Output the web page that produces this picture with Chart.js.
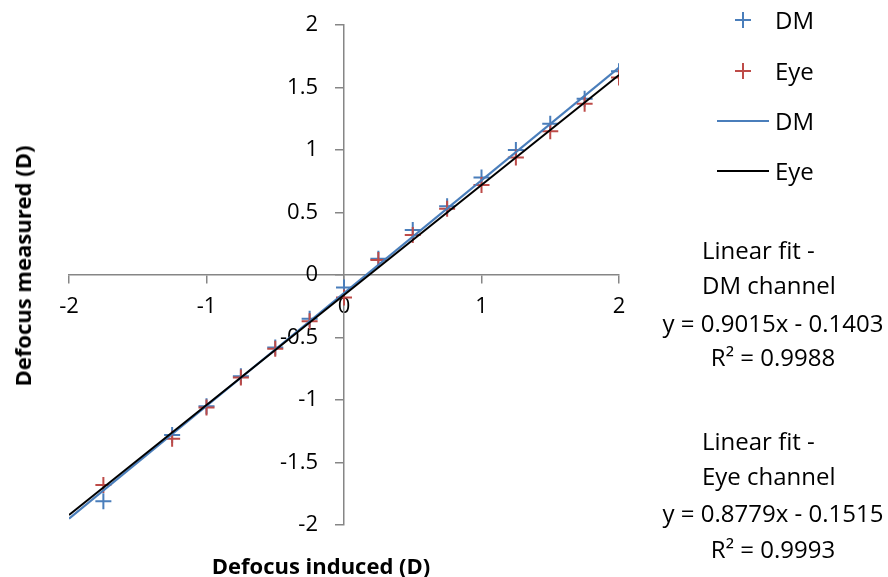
<!DOCTYPE html>
<html>
<head>
<meta charset="utf-8">
<script src="https://cdn.jsdelivr.net/npm/chart.js@4"></script>
<style>
  body { margin: 0; background: #fff; }
  #wrap { position: relative; width: 888px; height: 577px; font-family: 'Open Sans', sans-serif; color: #000; }
  .t { position: absolute; font-size: 24px; line-height: 28px; white-space: nowrap; }
  .c { transform: translate(-50%, -50%); }
  .l { transform: translate(0, -50%); }
  .ttl { font-weight: bold; font-size: 22px; }
  .cross { position: absolute; width: 16px; height: 16px; transform: translate(-50%, -50%); }
  .cross::before, .cross::after { content: ''; position: absolute; background: currentColor; }
  .cross::before { left: 0; top: 7px; width: 16px; height: 2px; }
  .cross::after { left: 7px; top: 0; width: 2px; height: 16px; }
  .lmark { position: absolute; height: 2px; width: 52px; }
</style>
</head>
<body>
<div id="wrap">
  <canvas id="c"></canvas>
</div>
<script>
// defocus induced (D)
var induced = [-1.75, -1.25, -1, -0.75, -0.5, -0.25, 0, 0.25, 0.5, 0.75, 1, 1.25, 1.5, 1.75, 2];
// defocus measured (D)
var dmMeasured  = [-1.81, -1.28, -1.05, -0.81, -0.58, -0.35, -0.10, 0.13, 0.36, 0.55, 0.78, 1.00, 1.21, 1.41, 1.63];
var eyeMeasured = [-1.68, -1.31, -1.06, -0.82, -0.59, -0.37, -0.18, 0.12, 0.32, 0.53, 0.72, 0.94, 1.15, 1.37, 1.58];
// trendline ends
var fitX = [-2, 2];
var dmFit = [-1.95, 1.66];
var eyeFit = [-1.92, 1.60];

var blue = '#4a7ebb', red = '#be4b48';

function pts(xs, ys) {
  return xs.map(function(x, i) { return { x: x, y: ys[i] }; });
}

// legend + fit annotations (html text)
var wrap = document.getElementById('wrap');
function addText(txt, x, y, cls) {
  var d = document.createElement('div');
  d.className = 't ' + cls;
  d.style.left = x + 'px';
  d.style.top = y + 'px';
  d.textContent = txt;
  wrap.appendChild(d);
  return d;
}
function addCross(color, x, y) {
  var d = document.createElement('div');
  d.className = 'cross';
  d.style.color = color;
  d.style.left = x + 'px';
  d.style.top = y + 'px';
  wrap.appendChild(d);
}
function addLine(color, x, y) {
  var d = document.createElement('div');
  d.className = 'lmark';
  d.style.background = color;
  d.style.left = x + 'px';
  d.style.top = (y - 1) + 'px';
  wrap.appendChild(d);
}

addCross(blue, 743, 20);  addText('DM', 775, 20, 'l');
addCross(red, 743, 71);   addText('Eye', 775, 71, 'l');
addLine(blue, 717, 121);  addText('DM', 775, 121, 'l');
addLine('#000', 717, 171); addText('Eye', 775, 171, 'l');

addText('Linear fit -', 702, 250, 'l');
addText('DM channel', 702, 285, 'l');
addText('y = 0.9015x - 0.1403', 773, 323, 'c');
addText('R² = 0.9988', 773, 357, 'c');
addText('Linear fit -', 702, 441, 'l');
addText('Eye channel', 702, 476, 'l');
addText('y = 0.8779x - 0.1515', 773, 513, 'c');
addText('R² = 0.9993', 773, 549, 'c');

addText('Defocus induced (D)', 321, 565, 'c ttl');
var yt = addText('Defocus measured (D)', 22, 266, 'ttl');
yt.style.transform = 'translate(-50%, -50%) rotate(-90deg)';

var axisGrey = '#868686';
var tickFont = { family: "'Open Sans', sans-serif", size: 22 };

// y axis sits at x=0, chart.js puts its labels flush on the line - push them left
var Y_LABEL_GAP = 26;
var yLabelGap = {
  id: 'yLabelGap',
  afterUpdate: function(chart) {
    var sc = chart.scales.y;
    sc.getLabelItems(chart.chartArea).forEach(function(it) {
      it.options.translation[0] -= Y_LABEL_GAP;
    });
  }
};

new Chart(document.getElementById('c'), {
  type: 'scatter',
  data: {
    datasets: [
      { label: 'DM', data: pts(induced, dmMeasured), pointStyle: 'cross', pointRadius: 8,
        borderColor: blue, backgroundColor: blue, pointBorderWidth: 2, order: 4 },
      { label: 'Eye', data: pts(induced, eyeMeasured), pointStyle: 'cross', pointRadius: 8,
        borderColor: red, backgroundColor: red, pointBorderWidth: 2, order: 3 },
      { label: 'DM', data: pts(fitX, dmFit), showLine: true, pointRadius: 0,
        borderColor: blue, borderWidth: 2.25, order: 2 },
      { label: 'Eye', data: pts(fitX, eyeFit), showLine: true, pointRadius: 0,
        borderColor: '#000', borderWidth: 2, order: 1 }
    ]
  },
  options: {
    responsive: true,
    maintainAspectRatio: false,
    animation: false,
    layout: { padding: { left: 69, right: 269, top: 25, bottom: 52 } },
    plugins: { legend: { display: false }, tooltip: { enabled: false } },
    scales: {
      x: {
        type: 'linear', position: { y: 0 }, min: -2, max: 2,
        border: { color: axisGrey, width: 1.5 },
        grid: { display: true, drawOnChartArea: false, drawTicks: true, tickLength: 8, color: axisGrey, lineWidth: 1.5 },
        ticks: { stepSize: 1, color: '#000', font: tickFont, padding: 11, maxRotation: 0 }
      },
      y: {
        type: 'linear', position: { x: 0 }, min: -2, max: 2,
        border: { color: axisGrey, width: 1.5 },
        grid: { display: true, drawOnChartArea: false, drawTicks: true, tickLength: 8, color: axisGrey, lineWidth: 1.5 },
        ticks: { stepSize: 0.5, color: '#000', font: tickFont, padding: 0,
          callback: function(v) { return String(Number(v)); } }
      }
    }
  },
  plugins: [yLabelGap]
});
</script>
</body>
</html>
